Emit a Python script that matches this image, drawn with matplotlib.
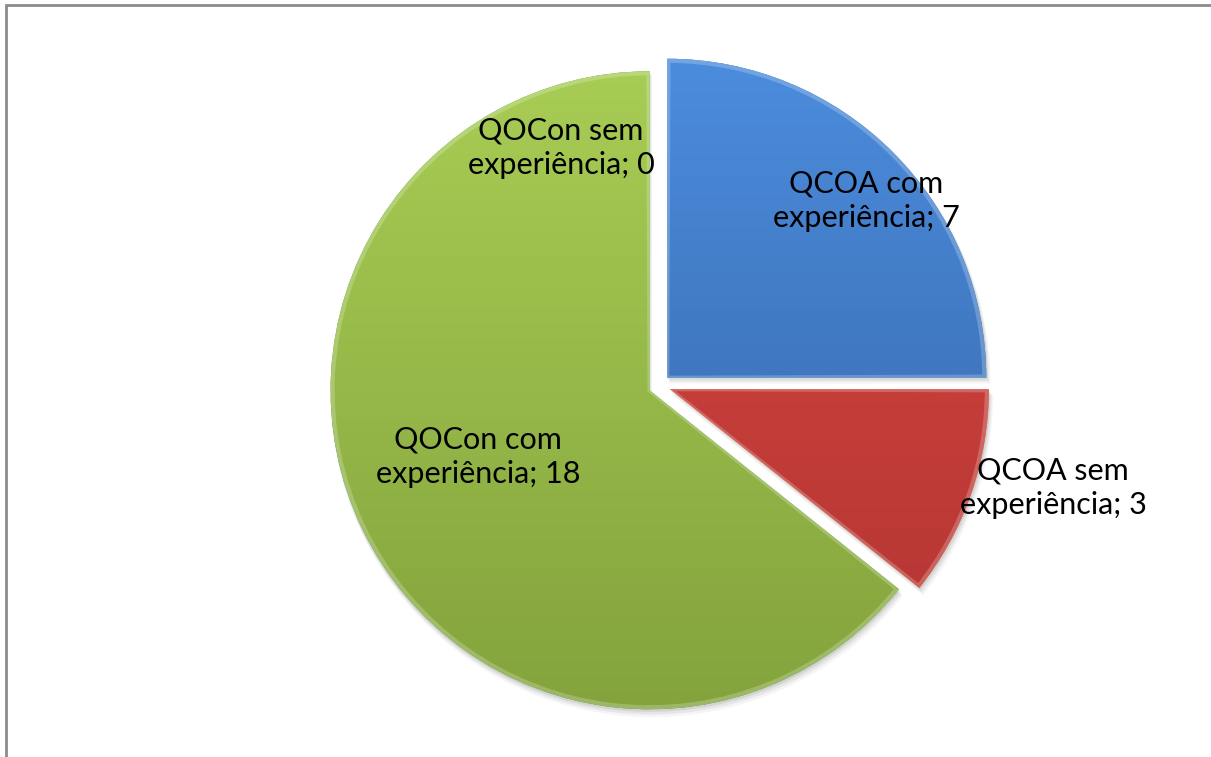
import numpy as np
import matplotlib.pyplot as plt
from matplotlib.colors import LinearSegmentedColormap
from matplotlib.patches import Rectangle, Wedge

# slice data, in the order the pie draws them (clockwise from the top)
categories = ["QCOA com\nexperiência", "QCOA sem\nexperiência",
              "QOCon com\nexperiência", "QOCon sem\nexperiência"]
values = [7, 3, 18, 0]

top_colors = ["#4C8DDE", "#DB4743", "#A9CE55", "#A9CE55"]
bottom_colors = ["#3360A0", "#B03431", "#83A23C", "#83A23C"]

# label anchor points in pixels from the top-left corner
label_pos = [(866, 201), (1053, 488), (478, 457), (561, 148)]

W, H = 1211, 757
fig = plt.figure(figsize=(W / 100, H / 100), dpi=100)
ax = fig.add_axes([0, 0, 1, 1])

cx, cy, r = 659.5, H - 385.5, 319
# pie's explode offset is in data units here (pixels)
wedges, _ = ax.pie(values, startangle=90, counterclock=False, radius=r,
                   center=(cx, cy), explode=[11] * len(values),
                   wedgeprops=dict(linewidth=0))

grad = np.linspace(0, 1, 256).reshape(-1, 1)
for w, c0, c1 in zip(wedges, bottom_colors, top_colors):
    if w.theta2 - w.theta1 <= 0:
        continue
    wx, wy = w.center
    # soft drop shadow
    for k, a in [(6, 0.04), (4, 0.06), (2, 0.08)]:
        ax.add_patch(Wedge((wx + k * 0.4, wy - k), w.r + k * 0.3, w.theta1, w.theta2,
                           facecolor="black", edgecolor="none", alpha=a, zorder=0.5))
    w.set_zorder(1)
    cmap = LinearSegmentedColormap.from_list("g", [c0, c1])
    im = ax.imshow(grad, cmap=cmap, origin="lower", aspect="auto",
                   extent=(cx - r - 20, cx + r + 20, cy - r - 20, cy + r + 20),
                   zorder=1.5)
    im.set_clip_path(w)
    # light bevel along the edge
    edge = Wedge(w.center, w.r - 2, w.theta1 + 0.2, w.theta2 - 0.2,
                 facecolor="none", edgecolor="white", alpha=0.22,
                 linewidth=3, zorder=2)
    ax.add_patch(edge)

plt.rcParams['font.family'] = ['Lato', 'DejaVu Sans']
for cat, v, (px, py) in zip(categories, values, label_pos):
    ax.text(px, H - py, f"{cat}; {v}", ha="center", va="center",
            fontsize=22, linespacing=1.3, color="black", zorder=5)

ax.set_xlim(0, W)
ax.set_ylim(0, H)
ax.set_aspect("auto")
ax.axis("off")

# chart frame, only the top and left sides fall inside the image
fig.patches.append(Rectangle((6 / W, -0.1), 1.2, (H - 5) / H + 0.1,
                             transform=fig.transFigure, facecolor="none",
                             edgecolor="#8C8C8C", linewidth=2))

fig.savefig("out.png", dpi=100)
